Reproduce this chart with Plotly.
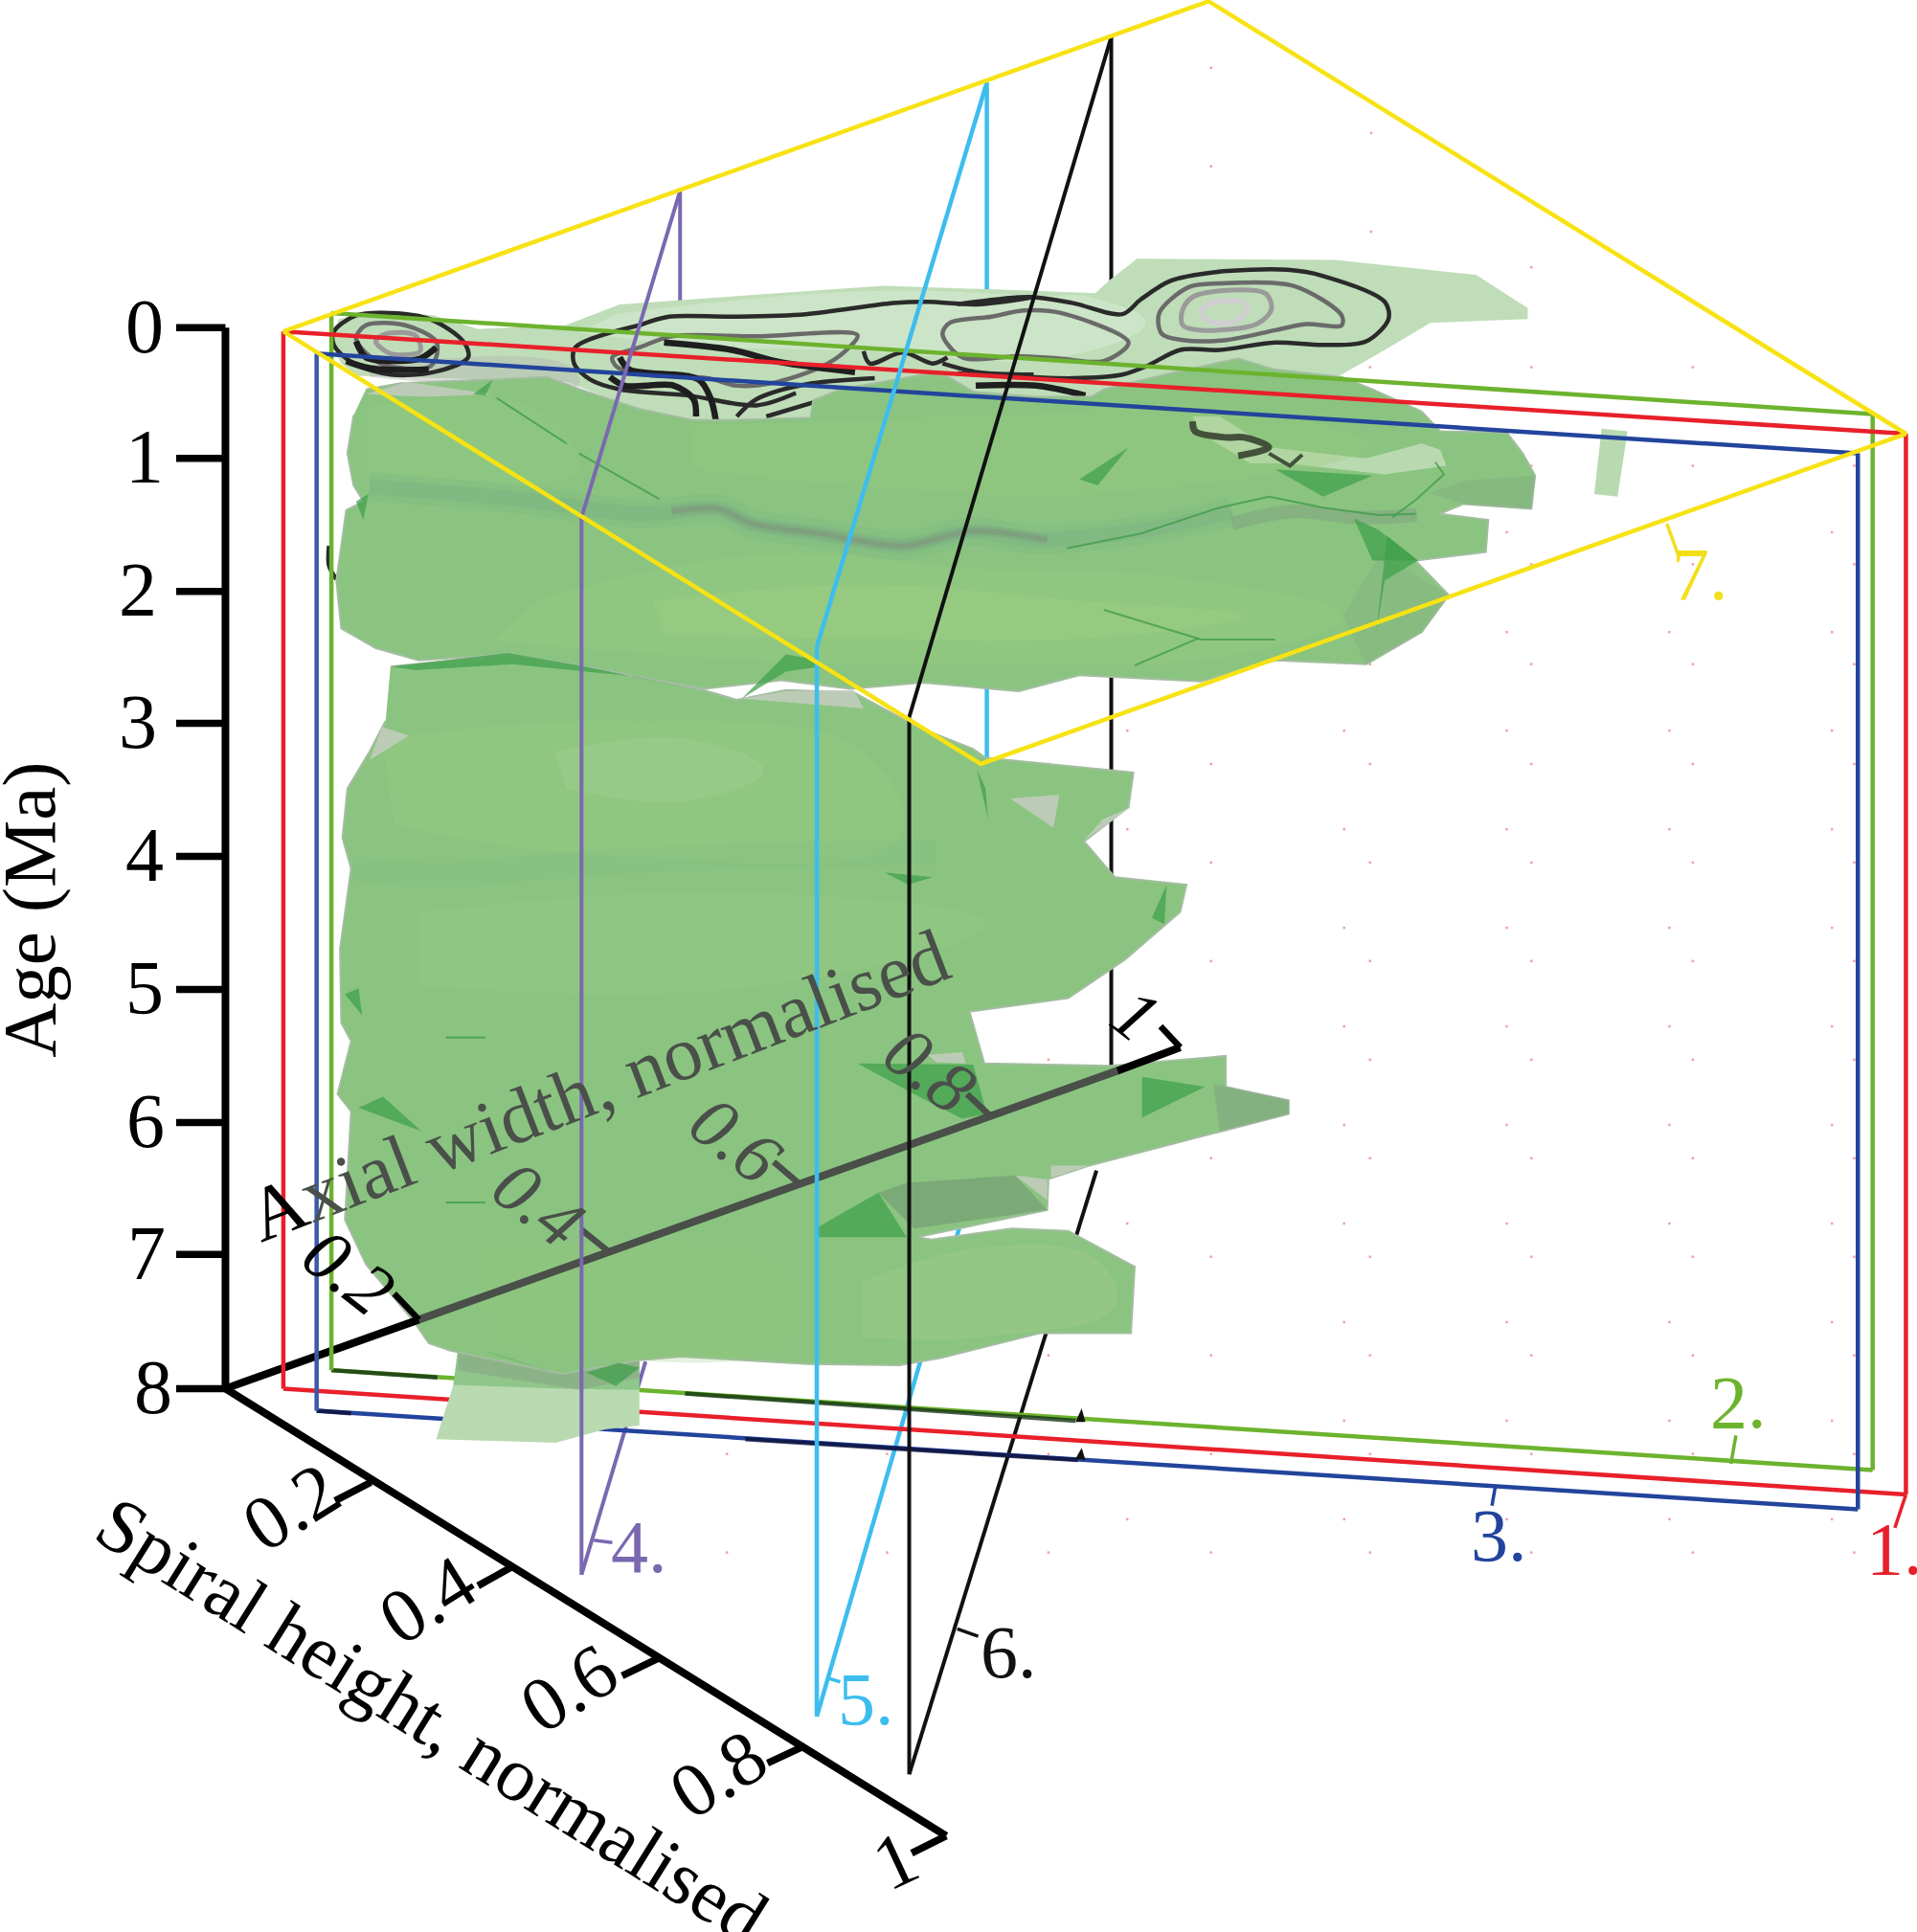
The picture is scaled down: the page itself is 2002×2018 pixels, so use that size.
import plotly.graph_objects as go

SERIF = "Liberation Serif"

# axis end points and ticks, in the picture's own coordinate frame
AGE_LABELS = ["0", "1", "2", "3", "4", "5", "6", "7", "8"]
AGE_AXIS_X = [183, 183]
AGE_AXIS_Y = [266, 1127]
AGE_TICK_Y = [266, 372, 480, 587, 695, 803, 911, 1018, 1127]
AGE_TICK_X = [143, 183]
AGE_LABEL_X = [117, 117, 112, 112, 117, 117, 118, 119, 124]

SPIRAL_LABELS = ["0.2", "0.4", "0.6", "0.8", "1"]
SPIRAL_AXIS_X = [183, 768]
SPIRAL_AXIS_Y = [1127, 1490]
SPIRAL_TICK_X0 = [301, 415, 534, 653, 768]
SPIRAL_TICK_Y0 = [1203, 1272, 1346, 1417, 1490]
SPIRAL_TICK_X1 = [272, 388, 505, 623, 740]
SPIRAL_TICK_Y1 = [1218, 1287, 1360, 1431, 1504]
SPIRAL_LABEL_X = [236, 347, 462, 583, 727]
SPIRAL_LABEL_Y = [1223, 1298, 1370, 1440, 1510]

AXIAL_LABELS = ["0.2", "0.4", "0.6", "0.8", "1"]
AXIAL_AXIS_X = [183, 340, 907, 958]
AXIAL_AXIS_Y = [1127, 1071, 869, 850]
AXIAL_TICK_X0 = [340, 493, 648, 803, 958]
AXIAL_TICK_Y0 = [1071, 1015, 960, 905, 850]
AXIAL_TICK_X1 = [320, 472, 628, 785, 942]
AXIAL_TICK_Y1 = [1050, 998, 943, 888, 833]
AXIAL_LABEL_X = [283, 437, 597, 755, 922]
AXIAL_LABEL_Y = [1032, 977, 925, 868, 824]

# sections
RED_X = [230, 1547, 1547, 230, 230]
RED_Y = [269, 352, 1213, 1127, 269]
GREEN_X = [269, 1520, 1520, 269, 269]
GREEN_Y = [254, 336, 1193, 1112, 254]
BLUE_X = [257, 1508, 1508, 257, 257]
BLUE_Y = [287, 368, 1225, 1145, 287]
YELLOW_X = [230, 981, 1547, 796, 230]
YELLOW_Y = [269, 1, 352, 620, 269]

PURPLE_BACK_X = [552, 552]
PURPLE_BACK_Y = [155, 262]
PURPLE_X = [552, 472, 472]
PURPLE_Y = [155, 420, 1278]
PURPLE_FLOOR_X = [472, 524]
PURPLE_FLOOR_Y = [1278, 1105]
CYAN_BACK_X = [801, 801]
CYAN_BACK_Y = [67, 615]
CYAN_X = [801, 663, 663]
CYAN_Y = [67, 525, 1393]
CYAN_FLOOR_X = [663, 782]
CYAN_FLOOR_Y = [1393, 985]
BLACK_BACK_X = [902, 902]
BLACK_BACK_Y = [30, 868]
BLACK_X = [902, 738, 738]
BLACK_Y = [30, 582, 1440]
BLACK_FLOOR_X = [738, 890]
BLACK_FLOOR_Y = [1440, 950]

SECTION_LABELS = ["1.", "2.", "3.", "4.", "5.", "6.", "7."]
SECTION_COLORS = ["#E8202A", "#6CB32E", "#22449C", "#7A68B0", "#3DBDEE", "#111111", "#F2DF1A"]
SECTION_LABEL_X = [1538, 1411, 1217, 519, 703, 819, 1380]
SECTION_LABEL_Y = [1257, 1138, 1246, 1255, 1379, 1341, 466]
SECTION_TICK_X0 = [1547, 1409, 1214, 482, 672, 777, 1353]
SECTION_TICK_Y0 = [1213, 1165, 1205, 1250, 1362, 1322, 425]
SECTION_TICK_X1 = [1538, 1405, 1211, 497, 682, 794, 1362]
SECTION_TICK_Y1 = [1240, 1188, 1222, 1252, 1365, 1328, 450]

# faint sample dots behind the surface
DOT_COLS_A = [590, 720, 851, 983, 1112, 1243, 1374, 1505]
DOT_ROWS_A = [378, 458, 539, 620, 700, 780, 860, 940, 1020, 1100, 1180, 1260]
DOT_COLS_B = [915, 1091, 1223, 1355, 1487]
DOT_ROWS_B = [432, 513, 593, 673, 753, 833, 913, 993, 1073, 1153, 1233]
DOT_EXTRA_X = [983, 983, 1113, 1113, 1243, 1243, 1112, 1374]
DOT_EXTRA_Y = [55, 135, 108, 188, 217, 298, 298, 298]

# surface outlines
PALE_TOP_X = [923, 1084, 1198, 1240, 1240, 1161, 1119, 1089, 1000, 700, 655, 565, 520, 460, 290, 277,
              269, 275, 309, 352, 388, 459, 503, 574, 717, 840, 889, 901]
PALE_TOP_Y = [210, 211, 223, 250, 259, 262, 287, 304, 330, 330, 340, 341, 333, 310, 305, 295,
              280, 259, 252, 256, 267, 264, 247, 242, 232, 236, 238, 227]
PALE_LIGHT_X = [500, 574, 717, 840, 889, 930, 860, 700, 560, 470]
PALE_LIGHT_Y = [255, 246, 236, 240, 242, 262, 290, 285, 280, 270]
PALE_SHADE_X = [300, 460, 470, 380, 300]
PALE_SHADE_Y = [296, 296, 312, 312, 306]
PALE_BAR_X = [1300, 1321, 1313, 1294]
PALE_BAR_Y = [348, 350, 403, 401]
PALE_BOTTOM_X = [374, 368, 354, 451, 491, 519, 519, 456]
PALE_BOTTOM_Y = [1096, 1124, 1168, 1171, 1160, 1157, 1127, 1115]
NECK_X = [372, 368, 456, 519, 519, 470]
NECK_Y = [1092, 1124, 1127, 1128, 1104, 1110]

BLOB_A_X = [297, 325, 400, 444, 471, 519, 563, 594, 658, 660, 682, 725, 755, 770, 790, 840, 886, 896, 950,
            1005, 1035, 1089, 1114, 1154, 1169, 1223, 1236, 1246, 1243, 1188, 1169, 1208, 1206, 1149, 1176,
            1154, 1109, 1035, 975, 876, 827, 749, 690, 634, 571, 475, 412, 340, 305, 277, 273, 277, 281,
            295, 287, 282, 287]
BLOB_A_Y = [316, 311, 308, 306, 316, 332, 341, 341, 339, 325, 316, 308, 303, 306, 318, 322, 322, 316, 303,
            291, 300, 306, 316, 334, 350, 351, 368, 386, 413, 409, 417, 422, 448, 455, 483,
            513, 539, 536, 553, 548, 561, 554, 559, 552, 559, 541, 531, 536, 526, 510, 471, 443, 414,
            407, 394, 368, 337]
BLOB_B_X = [317, 416, 475, 571, 598, 638, 693, 745, 790, 800, 920, 916, 880, 905, 963, 958, 913, 867, 787,
            799, 901, 995, 995, 1046, 1046, 981, 884, 851, 850, 745, 756, 821, 867, 921, 918, 844, 764,
            730, 656, 553, 519, 456, 365, 348, 337, 297, 280, 285, 274, 285, 277, 276, 285, 278, 282,
            300, 313]
BLOB_B_Y = [541, 531, 541, 560, 568, 560, 562, 590, 608, 615, 627, 655, 683, 712, 718, 740, 779, 810, 821,
            863, 865, 857, 882, 893, 904, 921, 946, 957, 982, 1004, 1006, 997, 999, 1028, 1082, 1082, 1102,
            1108, 1107, 1101, 1104, 1115, 1096, 1090, 1074, 1026, 990, 902, 888, 845, 830, 770, 705, 680, 640,
            610, 585]
NOTCH_X = [968, 990, 1030, 1109, 1154, 1169, 1174, 1124, 1045, 1015, 975]
NOTCH_Y = [338, 338, 363, 372, 360, 365, 378, 385, 376, 376, 352]

# soft tone changes on the surface
GLOW_A1_X = [440, 620, 800, 950, 1090, 1010, 800, 600, 400]
GLOW_A1_Y = [485, 450, 462, 468, 500, 530, 540, 535, 520]
GLOW_A2_X = [530, 700, 880, 1010, 880, 700, 540]
GLOW_A2_Y = [488, 475, 488, 500, 518, 518, 515]
GLOW_A3_X = [560, 800, 1000, 1110, 900, 700, 560]
GLOW_A3_Y = [345, 338, 332, 362, 400, 395, 380]
GLOW_A4_X = [300, 430, 470, 420, 300]
GLOW_A4_Y = [330, 330, 380, 395, 385]
GLOW_B1_X = [310, 500, 700, 730, 500, 320]
GLOW_B1_Y = [600, 585, 610, 680, 695, 670]
GLOW_B2_X = [450, 560, 620, 560, 460]
GLOW_B2_Y = [610, 600, 625, 650, 640]
GLOW_B3_X = [340, 620, 800, 620, 340]
GLOW_B3_Y = [740, 725, 750, 800, 800]
GLOW_B4_X = [700, 800, 890, 905, 800, 700]
GLOW_B4_Y = [1040, 1012, 1022, 1060, 1085, 1085]
GLOW_B5_X = [380, 640, 640, 400]
GLOW_B5_Y = [1015, 1030, 1090, 1090]
SEAM_X = [300, 420, 519, 583, 610, 666, 733, 789, 839, 930, 1000]
SEAM_Y = [395, 405, 417, 413, 425, 433, 443, 431, 438, 430, 415]
SEAM_CORE_X = [545, 583, 610, 666, 733, 789, 850]
SEAM_CORE_Y = [415, 413, 425, 433, 443, 431, 438]
SEAM_DARK_X = [1000, 1050, 1100, 1150]
SEAM_DARK_Y = [425, 415, 420, 418]
SEAM_B_X = [285, 360, 460, 600, 760]
SEAM_B_Y = [705, 710, 702, 695, 692]
TIP_SHADE_X = [985, 1046, 1046, 990]
TIP_SHADE_Y = [880, 893, 904, 918]
RIGHT_SHADE_X = [1190, 1246, 1243, 1188, 1160]
RIGHT_SHADE_Y = [390, 386, 413, 409, 400]
END_SHADE_X = [1120, 1176, 1154, 1109, 1090]
END_SHADE_Y = [450, 483, 513, 539, 500]
UNDER_SHADE_X = [713, 736, 824, 850, 742]
UNDER_SHADE_Y = [968, 960, 954, 982, 997]
NECK_SHADE_X = [372, 456, 519, 519, 470, 372]
NECK_SHADE_Y = [1092, 1115, 1104, 1118, 1128, 1112]

# darker green creases
CREASE_X = [
    [876, 916, 891], [1099, 1119, 1151, 1114], [1126, 1151, 1124, 1117], [1035, 1114, 1074],
    [384, 400, 394], [299, 295, 289], [317, 412, 475, 571, 515, 416, 337],
    [696, 790, 801, 781, 742], [927, 978, 927], [662, 713, 736, 662],
    [602, 638, 660, 690, 666, 638], [291, 294, 280], [311, 342, 291], [388, 446, 415],
    [476, 502, 519, 500], [718, 757, 737], [947, 945, 935], [793, 802, 800],
]
CREASE_Y = [
    [389, 363, 394], [421, 430, 455, 455], [435, 455, 471, 513], [381, 386, 403],
    [320, 308, 321], [401, 422, 407], [541, 530, 541, 561, 549, 539, 544],
    [863, 864, 904, 908, 888], [874, 882, 907], [997, 968, 1004, 1004],
    [567, 531, 535, 557, 541, 545], [802, 824, 807], [890, 918, 899], [1095, 1113, 1103],
    [1114, 1106, 1110, 1125], [708, 712, 718], [718, 750, 745], [625, 665, 640],
]
THIN_CREASE_X = [
    [866, 926, 990, 1030, 1074, 1119, 1149], [896, 975, 1035], [921, 973], [362, 394], [362, 394],
    [403, 460], [470, 535], [1165, 1172, 1150, 1130],
]
THIN_CREASE_Y = [
    [445, 433, 412, 403, 412, 418, 417], [495, 519, 519], [540, 518], [842, 842], [976, 976],
    [323, 360], [368, 405], [375, 385, 405, 420],
]
GREY_PATCH_X = [[602, 638, 693, 701], [824, 850, 850], [853, 884, 853], [753, 781, 784, 760], [297, 330, 400, 345],
                [820, 860, 855], [880, 918, 895], [310, 332, 300]]
GREY_PATCH_Y = [[567, 561, 560, 575], [954, 957, 974], [946, 946, 956], [856, 854, 863, 862], [320, 310, 320, 322],
                [648, 645, 672], [682, 655, 665], [590, 597, 617]]

# contours on the top slice
CONT_BLACK_X = [
    [777, 836, 871, 911, 926, 950, 985, 1045, 1074, 1124, 1127, 1109, 1074, 1035, 990, 958, 931, 911, 871, 836, 777],
    [519, 543, 594, 654, 725, 753, 793, 839],
    [519, 467, 466, 479, 503, 559, 614, 646],
    [271, 289, 317, 349, 376, 380, 352, 317, 287, 271, 271],
    [701, 706, 733, 757, 769],
    [765, 793, 839],
    [622, 662],
    [598, 614, 654, 710],
    [267, 267, 273],
    [1030, 1047, 1057],
]
CONT_BLACK_Y = [
    [247, 241, 246, 255, 243, 228, 221, 219, 224, 245, 259, 277, 280, 278, 284, 284, 297, 304, 307, 306, 303],
    [264, 257, 257, 255, 246, 245, 247, 241],
    [264, 282, 295, 308, 316, 321, 329, 319],
    [269, 256, 254, 259, 277, 290, 302, 304, 295, 280, 269],
    [285, 295, 286, 295, 290],
    [295, 302, 304],
    [338, 326],
    [338, 324, 312, 307],
    [443, 459, 470],
    [368, 378, 369],
]
CONT_THICK_X = [
    [539, 594, 634, 694],
    [495, 507, 547, 563, 565],
    [503, 511, 567, 577, 581],
    [792, 841, 881],
    [289, 297, 321, 341, 354],
    [281, 301, 348],
    [968, 970, 995, 1010, 1030, 1005],
]
CONT_THICK_Y = [
    [278, 284, 294, 302],
    [306, 313, 313, 324, 338],
    [290, 300, 308, 324, 341],
    [313, 313, 321],
    [277, 290, 293, 291, 282],
    [293, 299, 300],
    [342, 350, 355, 355, 363, 370],
]
CONT_GREY_X = [
    [941, 965, 990, 1050, 1089, 1089, 1060, 1035, 995, 960, 943, 941],
    [771, 805, 831, 861, 916, 896, 860, 827, 781, 765, 771],
    [545, 614, 696, 686, 666, 626, 598, 575, 523, 501, 497, 519, 545],
    [289, 297, 329, 354, 354, 348, 309, 289],
]
CONT_GREY_Y = [
    [254, 233, 230, 232, 256, 264, 263, 268, 276, 276, 271, 254],
    [262, 257, 252, 254, 278, 293, 291, 289, 290, 271, 262],
    [273, 273, 272, 285, 298, 311, 313, 307, 304, 298, 290, 282, 273],
    [275, 264, 264, 277, 290, 298, 295, 275],
]
CONT_MID_X = [[960, 970, 1027, 1032, 1020, 975, 960, 960], [305, 313, 337, 341, 317, 305]]
CONT_MID_Y = [[251, 240, 238, 251, 263, 268, 264, 251], [277, 271, 272, 285, 287, 277]]
CONT_LIGHT_X = [975, 983, 1010, 1012, 1000, 980, 975]
CONT_LIGHT_Y = [254, 246, 246, 252, 262, 260, 254]

# mottled stretches of the bottom edges
GREEN_DARK_X = [[269, 355], [556, 873]]
GREEN_DARK_Y = [[1112, 1118], [1131, 1153]]
BLUE_DARK_X = [[257, 285], [605, 875]]
BLUE_DARK_Y = [[1145, 1147], [1168, 1185]]
SPIKE_X = [[873, 878, 881], [873, 878, 881]]
SPIKE_Y = [[1154, 1143, 1154], [1184, 1175, 1185]]

GREEN_MAIN = "#8AC480"

fig = go.Figure()


def add_line(x, y, color, width, opacity=1.0, smooth=False):
    line = dict(color=color, width=width)
    if smooth:
        line.update(shape="spline", smoothing=0.9)
    fig.add_trace(go.Scatter(x=x, y=y, mode="lines", opacity=opacity, line=line, hoverinfo="skip"))


def add_patch(x, y, color, opacity=1.0, edge=None, smooth=False):
    line = dict(color=edge or color, width=2 if edge else 0)
    if smooth:
        line.update(shape="spline", smoothing=1.2)
    fig.add_trace(go.Scatter(x=x, y=y, mode="lines", fill="toself", fillcolor=color, opacity=opacity,
                             line=line, hoverinfo="skip"))


def add_text(x, y, text, size=78, angle=0, color="#000000", italic=False):
    fig.add_annotation(x=x, y=y, text=text, showarrow=False, textangle=angle, xanchor="center", yanchor="middle",
                       font=dict(family=SERIF, size=size, color=color, style="italic" if italic else "normal"))


# dots
dot_x, dot_y = list(DOT_EXTRA_X), list(DOT_EXTRA_Y)
for cols, rows in [(DOT_COLS_A, DOT_ROWS_A), (DOT_COLS_B, DOT_ROWS_B)]:
    for cx in cols:
        for ry in rows:
            dot_x.append(cx)
            dot_y.append(ry)
fig.add_trace(go.Scatter(x=dot_x, y=dot_y, mode="markers", hoverinfo="skip",
                         marker=dict(color="#F2A0A0", size=2.5, symbol="square")))

# things seen behind the surface
add_line(PURPLE_BACK_X, PURPLE_BACK_Y, "#7A68B0", 4)
add_line(CYAN_BACK_X, CYAN_BACK_Y, "#3DBDEE", 4.5)
add_line(BLACK_BACK_X, BLACK_BACK_Y, "#111111", 4)
add_line(PURPLE_FLOOR_X, PURPLE_FLOOR_Y, "#7A68B0", 4)
add_line(CYAN_FLOOR_X, CYAN_FLOOR_Y, "#3DBDEE", 4.5)
add_line(BLACK_FLOOR_X, BLACK_FLOOR_Y, "#111111", 4)
add_line(RED_X[2:4], RED_Y[2:4], "#E8202A", 4.5)
add_line(GREEN_X[2:4], GREEN_Y[2:4], "#6CB32E", 4.5)
add_line(BLUE_X[2:4], BLUE_Y[2:4], "#22449C", 4.5)
for xs, ys in zip(GREEN_DARK_X, GREEN_DARK_Y):
    add_line(xs, ys, "#0C2A10", 4.5, 0.75)
for xs, ys in zip(BLUE_DARK_X, BLUE_DARK_Y):
    add_line(xs, ys, "#0A0C30", 4.5, 0.75)
for xs, ys in zip(SPIKE_X, SPIKE_Y):
    add_patch(xs, ys, "#111111")

# top slice and its contours
add_patch(PALE_TOP_X, PALE_TOP_Y, "#BFDDB8")
add_patch(PALE_LIGHT_X, PALE_LIGHT_Y, "#D6E9D0", 0.6, smooth=True)
add_patch(PALE_SHADE_X, PALE_SHADE_Y, "#B8BCB4", 0.5, smooth=True)
for xs, ys in zip(CONT_GREY_X, CONT_GREY_Y):
    add_line(xs, ys, "#6A6A6A", 4.5, smooth=True)
for xs, ys in zip(CONT_MID_X, CONT_MID_Y):
    add_line(xs, ys, "#9A9A9A", 5, smooth=True)
add_line(CONT_LIGHT_X, CONT_LIGHT_Y, "#CFCFCF", 6, smooth=True)
for xs, ys in zip(CONT_BLACK_X, CONT_BLACK_Y):
    add_line(xs, ys, "#2A2A2A", 4.5, smooth=True)
for xs, ys in zip(CONT_THICK_X, CONT_THICK_Y):
    add_line(xs, ys, "#1E1E1E", 6.5, smooth=True)

# the surface itself
add_patch(PALE_BOTTOM_X, PALE_BOTTOM_Y, "#B9DAB1")
add_patch(PALE_BAR_X, PALE_BAR_Y, "#B9DAB1")
add_patch(NECK_X, NECK_Y, "#8FC689")
add_patch(NECK_SHADE_X, NECK_SHADE_Y, "#8A9E88", 0.5)
add_patch(BLOB_B_X, BLOB_B_Y, GREEN_MAIN, edge="#A3BDA0")
add_patch(BLOB_A_X, BLOB_A_Y, GREEN_MAIN, edge="#A3BDA0")
add_patch(NOTCH_X, NOTCH_Y, "#B9DAB1")
add_line(CONT_THICK_X[-1], CONT_THICK_Y[-1], "#1E1E1E", 7, smooth=True)
add_line(CONT_BLACK_X[-1], CONT_BLACK_Y[-1], "#1E1E1E", 4)

for xs, ys, col, op in [
    (GLOW_A1_X, GLOW_A1_Y, "#A0CC80", 0.3),
    (GLOW_A2_X, GLOW_A2_Y, "#A5CF86", 0.3),
    (GLOW_A3_X, GLOW_A3_Y, "#9CCB7E", 0.3),
    (GLOW_A4_X, GLOW_A4_Y, "#9ACB84", 0.22),
    (GLOW_B1_X, GLOW_B1_Y, "#9DCB82", 0.28),
    (GLOW_B2_X, GLOW_B2_Y, "#ABD298", 0.3),
    (GLOW_B3_X, GLOW_B3_Y, "#9FCD85", 0.28),
    (GLOW_B4_X, GLOW_B4_Y, "#A0CE86", 0.4),
    (GLOW_B5_X, GLOW_B5_Y, "#98C97C", 0.25),
]:
    add_patch(xs, ys, col, op, smooth=True)

for xs, ys, col, op in [
    (TIP_SHADE_X, TIP_SHADE_Y, "#7E9E80", 0.5),
    (RIGHT_SHADE_X, RIGHT_SHADE_Y, "#7E9E80", 0.3),
    (END_SHADE_X, END_SHADE_Y, "#7E9E80", 0.25),
    (UNDER_SHADE_X, UNDER_SHADE_Y, "#6E8E70", 0.5),
]:
    add_patch(xs, ys, col, op)
add_line(SEAM_X, SEAM_Y, "#6FB088", 30, 0.18, smooth=True)
add_line(SEAM_X, SEAM_Y, "#6FA888", 16, 0.22, smooth=True)
add_line(SEAM_CORE_X, SEAM_CORE_Y, "#7C8A80", 11, 0.22, smooth=True)
add_line(SEAM_CORE_X, SEAM_CORE_Y, "#7C7F7C", 5, 0.3, smooth=True)
add_line(SEAM_DARK_X, SEAM_DARK_Y, "#7C8A80", 14, 0.3, smooth=True)
add_line(SEAM_B_X, SEAM_B_Y, "#7DBD86", 26, 0.2, smooth=True)

for xs, ys in zip(GREY_PATCH_X, GREY_PATCH_Y):
    add_patch(xs, ys, "#C4CCC0", 0.85)
for xs, ys in zip(CREASE_X, CREASE_Y):
    add_patch(xs, ys, "#3F9F4A", 0.72)
for xs, ys in zip(THIN_CREASE_X, THIN_CREASE_Y):
    add_line(xs, ys, "#3F9A48", 2, 0.75)

# axes
add_line(AGE_AXIS_X, AGE_AXIS_Y, "#000000", 8)
for ty in AGE_TICK_Y:
    add_line(AGE_TICK_X, [ty, ty], "#000000", 7.5)
add_line(SPIRAL_AXIS_X, SPIRAL_AXIS_Y, "#000000", 8)
for x0, y0, x1, y1 in zip(SPIRAL_TICK_X0, SPIRAL_TICK_Y0, SPIRAL_TICK_X1, SPIRAL_TICK_Y1):
    add_line([x0, x1], [y0, y1], "#000000", 7.5)
add_line(AXIAL_AXIS_X[:2], AXIAL_AXIS_Y[:2], "#000000", 8)
add_line(AXIAL_AXIS_X[1:3], AXIAL_AXIS_Y[1:3], "#4A4F4A", 8)
add_line(AXIAL_AXIS_X[2:], AXIAL_AXIS_Y[2:], "#000000", 8)
for i, (x0, y0, x1, y1) in enumerate(zip(AXIAL_TICK_X0, AXIAL_TICK_Y0, AXIAL_TICK_X1, AXIAL_TICK_Y1)):
    add_line([x0, x1], [y0, y1], "#000000" if i in (0, 4) else "#4A4F4A", 6.5)

# section outlines on top
add_line(GREEN_X[:2], GREEN_Y[:2], "#6CB32E", 4.5)
add_line(GREEN_X[1:3], GREEN_Y[1:3], "#6CB32E", 4.5)
add_line(GREEN_X[3:], GREEN_Y[3:], "#6CB32E", 4.5)
add_line(RED_X[:2], RED_Y[:2], "#E8202A", 4.5)
add_line(RED_X[1:3], RED_Y[1:3], "#E8202A", 4.5)
add_line(RED_X[3:], RED_Y[3:], "#E8202A", 4.5)
add_line(BLUE_X[:2], BLUE_Y[:2], "#22449C", 4.5)
add_line(BLUE_X[1:3], BLUE_Y[1:3], "#22449C", 4.5)
add_line(BLUE_X[3:], BLUE_Y[3:], "#3A5AA8", 4.5)
add_line(PURPLE_X, PURPLE_Y, "#7A68B0", 4)
add_line(CYAN_X, CYAN_Y, "#3DBDEE", 4.5)
add_line(BLACK_X, BLACK_Y, "#111111", 4)
add_line(YELLOW_X, YELLOW_Y, "#F7E214", 4.5)

for x0, y0, x1, y1, col in zip(SECTION_TICK_X0, SECTION_TICK_Y0, SECTION_TICK_X1, SECTION_TICK_Y1, SECTION_COLORS):
    add_line([x0, x1], [y0, y1], col, 3.5)

# text
for lab, tx, ty in zip(AGE_LABELS, AGE_LABEL_X, AGE_TICK_Y):
    add_text(tx, ty - 1, lab, size=80)
add_text(24, 738, "Age (Ma)", angle=-90, size=79)
for lab, tx, ty in zip(SPIRAL_LABELS, SPIRAL_LABEL_X, SPIRAL_LABEL_Y):
    add_text(tx, ty, lab, size=80, angle=-32 if lab != "1" else -25)
add_text(351, 1396, "Spiral height, normalised", size=80, angle=32)
for i, (lab, tx, ty) in enumerate(zip(AXIAL_LABELS, AXIAL_LABEL_X, AXIAL_LABEL_Y)):
    add_text(tx, ty, lab, size=76, angle=38, italic=True, color="#000000" if i in (0, 4) else "#4A4F4A")
add_text(485, 881, '<span style="color:#000000">A</span>xial width, normalised', size=80, angle=-21,
         color="#4A4F4A")
for lab, col, tx, ty in zip(SECTION_LABELS, SECTION_COLORS, SECTION_LABEL_X, SECTION_LABEL_Y):
    add_text(tx, ty, lab, color=col, size=78)

fig.update_xaxes(visible=False, range=[0, 1556], fixedrange=True)
fig.update_yaxes(visible=False, range=[1568, 0], fixedrange=True)
fig.update_layout(width=2002, height=2018, margin=dict(l=0, r=0, t=0, b=0), autosize=False,
                  showlegend=False, hovermode=False, paper_bgcolor="white", plot_bgcolor="white")

fig.write_html("out.html", config={"displayModeBar": False},
               post_script="document.body.style.margin='0';document.body.style.overflow='hidden';")
